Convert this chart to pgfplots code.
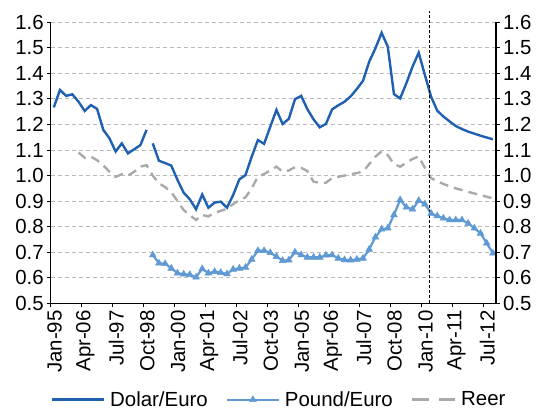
\documentclass[border=0pt]{standalone}
\usepackage{fontspec}
\setmainfont{Liberation Sans}
\usepackage{pgfplots}
\pgfplotsset{compat=1.18}
\definecolor{dblue}{RGB}{31,96,176}
\definecolor{lblue}{RGB}{96,154,212}
\definecolor{reerc}{RGB}{170,170,170}
\definecolor{gridc}{RGB}{185,185,185}
\newcommand{\bigf}{\fontsize{20.5}{24}\selectfont}
\pgfplotsset{reerlegend/.style={legend image code/.code={\draw[##1, dash pattern=on 16.5bp off 10bp] (0bp,0bp) -- (43bp,0bp);}}}

\begin{document}
\begin{tikzpicture}
\useasboundingbox (-50.7bp,-108.7bp) rectangle (486.3bp,303.3bp);
\begin{axis}[
  at={(0,0)}, anchor=south west,
  width=445.3bp, height=281bp, scale only axis,
  xmin=0, xmax=216, ymin=0.5, ymax=1.6,
  axis lines*=left,
  axis line style={-, line width=1.3bp, black},
  xtick={0,15,30,45,60,75,90,105,120,135,150,165,180,195,210},
  xticklabels={Jan-95,Apr-06,Jul-97,Oct-98,Jan-00,Apr-01,Jul-02,Oct-03,Jan-05,Apr-06,Jul-07,Oct-08,Jan-10,Apr-11,Jul-12},
  ytick={0.5,0.6,0.7,0.8,0.9,1.0,1.1,1.2,1.3,1.4,1.5,1.6},
  yticklabel style={/pgf/number format/.cd, fixed, fixed zerofill, precision=1, assume math mode=true},
  tick label style={font=\bigf},
  xticklabel style={xshift=3.8bp, rotate=90, anchor=east},
  tick align=outside, xtick pos=left, ytick pos=left,
  major tick length=3.5bp,
  tick style={black, line width=1bp},
  ymajorgrids,
  major grid style={gridc, dash pattern=on 4.5bp off 2.5bp, line width=0.9bp},
  clip=false,
  legend columns=3,
  legend cell align=left,
  legend style={at={(axis description cs:0.513,-0.343)}, anchor=center, draw=none, fill=none, font=\bigf,
    /tikz/every odd column/.append style={column sep=3bp},
    /tikz/every even column/.append style={column sep=16bp}},
  legend image code/.code={\draw[mark repeat=2,mark phase=2,#1] plot coordinates {(0bp,0bp) (26bp,0bp) (52bp,0bp)};},
]
\addplot[dblue, line width=2.4bp, no markers] coordinates {
(1.5,1.267) (4.5,1.335) (7.5,1.312) (10.5,1.318) (13.5,1.289) (16.5,1.253) (19.5,1.276) (22.5,1.261)
(25.5,1.179) (28.5,1.146) (31.5,1.094) (34.5,1.126) (37.5,1.087) (40.5,1.103) (43.5,1.119) (46.5,1.179)};
\addlegendentry{Dolar/Euro}
\addplot[dblue, line width=2.4bp, no markers, forget plot] coordinates {
(49.5,1.126) (52.5,1.058) (55.5,1.049) (58.5,1.039) (61.5,0.983) (64.5,0.933) (67.5,0.907) (70.5,0.868)
(73.5,0.926) (76.5,0.874) (79.5,0.894) (82.5,0.898) (85.5,0.874) (88.5,0.924) (91.5,0.985) (94.5,1.002)
(97.5,1.074) (100.5,1.139) (103.5,1.124) (106.5,1.191) (109.5,1.257) (112.5,1.202) (115.5,1.222) (118.5,1.299)
(121.5,1.312) (124.5,1.260) (127.5,1.220) (130.5,1.189) (133.5,1.202) (136.5,1.259) (139.5,1.275) (142.5,1.289)
(145.5,1.310) (148.5,1.339) (151.5,1.371) (154.5,1.446) (157.5,1.498) (160.5,1.559) (163.5,1.505) (166.5,1.319)
(169.5,1.302) (172.5,1.361) (175.5,1.426) (178.5,1.481) (181.5,1.394) (184.5,1.309) (187.5,1.254) (190.5,1.231)
(193.5,1.212) (196.5,1.194) (199.5,1.182) (202.5,1.172) (205.5,1.164) (208.5,1.156) (211.5,1.149) (214.5,1.142)};
\addplot[lblue, line width=2.2bp, mark=triangle*, mark size=3.9bp, mark options={solid, fill=lblue, draw=lblue, line width=0.5bp}] coordinates {
(49.5,0.689) (52.5,0.657) (55.5,0.655) (58.5,0.637) (61.5,0.618) (64.5,0.614) (67.5,0.612) (70.5,0.602)
(73.5,0.635) (76.5,0.618) (79.5,0.624) (82.5,0.620) (85.5,0.615) (88.5,0.633) (91.5,0.637) (94.5,0.640)
(97.5,0.672) (100.5,0.706) (103.5,0.706) (106.5,0.698) (109.5,0.683) (112.5,0.667) (115.5,0.669) (118.5,0.700)
(121.5,0.689) (124.5,0.680) (127.5,0.680) (130.5,0.680) (133.5,0.688) (136.5,0.689) (139.5,0.676) (142.5,0.670)
(145.5,0.669) (148.5,0.672) (151.5,0.676) (154.5,0.711) (157.5,0.759) (160.5,0.790) (163.5,0.794) (166.5,0.846)
(169.5,0.905) (172.5,0.876) (175.5,0.868) (178.5,0.902) (181.5,0.888) (184.5,0.852) (187.5,0.842) (190.5,0.833)
(193.5,0.826) (196.5,0.826) (199.5,0.826) (202.5,0.813) (205.5,0.794) (208.5,0.774) (211.5,0.735) (214.5,0.696)};
\addlegendentry{Pound/Euro}
\addplot[reerc, line width=2.4bp, no markers, dash pattern=on 9bp off 6bp, reerlegend] coordinates {
(13.5,1.090) (16.5,1.070) (19.5,1.074) (22.5,1.060) (25.5,1.040) (28.5,1.015) (31.5,0.995) (34.5,1.005)
(37.5,1.000) (40.5,1.015) (43.5,1.035) (46.5,1.041) (49.5,1.000) (52.5,0.970) (55.5,0.955) (58.5,0.935)
(61.5,0.900) (64.5,0.865) (67.5,0.845) (70.5,0.826) (73.5,0.846) (76.5,0.840) (79.5,0.855) (82.5,0.862)
(85.5,0.870) (88.5,0.888) (91.5,0.904) (94.5,0.915) (97.5,0.950) (100.5,0.996) (103.5,1.006) (106.5,1.020)
(109.5,1.035) (112.5,1.015) (115.5,1.020) (118.5,1.033) (121.5,1.030) (124.5,1.018) (127.5,0.976) (130.5,0.972)
(133.5,0.972) (136.5,0.990) (139.5,0.995) (142.5,1.000) (145.5,1.005) (148.5,1.010) (151.5,1.015) (154.5,1.045)
(157.5,1.074) (160.5,1.095) (163.5,1.080) (166.5,1.045) (169.5,1.035) (172.5,1.050) (175.5,1.065) (178.5,1.075)
(181.5,1.030) (184.5,0.990) (187.5,0.978) (190.5,0.967) (193.5,0.958) (196.5,0.950) (199.5,0.943) (202.5,0.936)
(205.5,0.930) (208.5,0.924) (211.5,0.917) (214.5,0.911)};
\addlegendentry{Reer}
\addplot[black, line width=1bp, dash pattern=on 3bp off 2bp, forget plot] coordinates {(183.7,0.5) (183.7,1.645)};
\end{axis}
\begin{axis}[
  at={(0,0)}, anchor=south west,
  width=445.3bp, height=281bp, scale only axis,
  xmin=0, xmax=216, ymin=0.5, ymax=1.6,
  axis x line=none, axis y line*=right,
  axis line style={-, line width=1.3bp, black},
  ytick={0.5,0.6,0.7,0.8,0.9,1.0,1.1,1.2,1.3,1.4,1.5,1.6},
  yticklabel style={/pgf/number format/.cd, fixed, fixed zerofill, precision=1, assume math mode=true},
  tick label style={font=\bigf},
  tick align=outside, ytick pos=right, yticklabel pos=right,
  major tick length=3.5bp,
  tick style={black, line width=1bp},
]
\end{axis}
\end{tikzpicture}
\end{document}
